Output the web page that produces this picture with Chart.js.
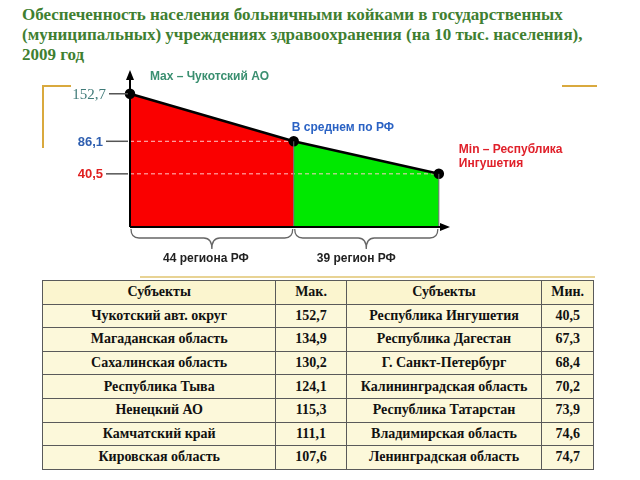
<!DOCTYPE html>
<html>
<head>
<meta charset="utf-8">
<script src="https://cdn.jsdelivr.net/npm/chart.js@4.4.1/dist/chart.umd.min.js"></script>
<style>
  body { margin: 0; width: 640px; height: 480px; background: #fff; position: relative; overflow: hidden; }
  #title { position: absolute; left: 22px; top: 5px; font: bold 17px "Liberation Serif", serif; line-height: 20px; color: #3f7f31; }
  #chartBox { position: absolute; left: 0; top: 60px; width: 640px; height: 215px; }
  .gold { position: absolute; background: #d9a93e; }
  #tbl { position: absolute; left: 42px; top: 280px; width: 552px; border-collapse: collapse; font: bold 14px "Liberation Serif", serif; color: #111; }
  #tbl td { border: 1px solid #5a5a5a; text-align: center; height: 22.6px; padding: 0; background: #fcf8da; }
  #tbl tr:first-child td { background: #fbf5cf; }
</style>
</head>
<body>
<div id="title">Обеспеченность населения больничными койками в государственных<br>(муниципальных) учреждениях здравоохранения (на 10 тыс. населения),<br>2009 год</div>

<div class="gold" style="left:42px;top:85px;width:2px;height:63px"></div>
<div class="gold" style="left:42px;top:85px;width:29px;height:2px"></div>
<div class="gold" style="left:562px;top:85px;width:35px;height:2px"></div>
<div class="gold" style="left:140px;top:276px;width:455px;height:2px;background:#e8d394"></div>

<div id="chartBox"><canvas id="chart" width="640" height="215"></canvas></div>

<table id="tbl"></table>

<script>
// группы регионов и уровни обеспеченности
const regionGroups = ['44 региона РФ', '39 регион РФ'];
const regionCounts = [44, 39];
const levelValues = [152.7, 86.1, 40.5]; // max, среднее, min
const levelNotes = [['Max – Чукотский АО'], ['В среднем по РФ'], ['Min – Республика', 'Ингушетия']];

// таблица
const tableHeader = ['Субъекты', 'Мак.', 'Субъекты', 'Мин.'];
const maxSubjects = ['Чукотский авт. округ', 'Магаданская область', 'Сахалинская область', 'Республика Тыва', 'Ненецкий АО', 'Камчатский край', 'Кировская область'];
const maxValues = [152.7, 134.9, 130.2, 124.1, 115.3, 111.1, 107.6];
const minSubjects = ['Республика Ингушетия', 'Республика Дагестан', 'Г. Санкт-Петербург', 'Калининградская область', 'Республика Татарстан', 'Владимирская область', 'Ленинградская область'];
const minValues = [40.5, 67.3, 68.4, 70.2, 73.9, 74.6, 74.7];

const fmt = v => v.toFixed(1).replace('.', ',');

// строим таблицу
const tbl = document.getElementById('tbl');
const widths = [235, 70, 196, 51];
let html = '<tr>' + tableHeader.map((h, i) => `<td style="width:${widths[i]}px">${h}</td>`).join('') + '</tr>';
maxSubjects.forEach((s, i) => {
    html += `<tr><td>${s}</td><td>${fmt(maxValues[i])}</td><td>${minSubjects[i]}</td><td>${fmt(minValues[i])}</td></tr>`;
});
tbl.innerHTML = html;

const xs = [0, regionCounts[0], regionCounts[0] + regionCounts[1]];
const pts = xs.map((x, i) => ({ x: x, y: levelValues[i] }));

const labelStyles = [
    { font: '15px "Liberation Serif"', color: '#3f7a78', right: 106 },
    { font: 'bold 13px "Liberation Sans"', color: '#2f5fb0', right: 103 },
    { font: 'bold 13px "Liberation Sans"', color: '#e02020', right: 103 }
];
const noteColors = ['#3a8f70', '#2a62c4', '#e0202a'];

const decor = {
    id: 'decor',
    afterDraw(chart) {
        const { ctx, chartArea: a, scales: { x, y } } = chart;
        ctx.save();

        // вертикальные границы областей
        ctx.strokeStyle = '#666';
        ctx.lineWidth = 1;
        [1, 2].forEach(i => {
            const px = x.getPixelForValue(xs[i]);
            ctx.beginPath();
            ctx.moveTo(px, a.bottom);
            ctx.lineTo(px, y.getPixelForValue(levelValues[i]));
            ctx.stroke();
        });

        // оси со стрелками
        ctx.strokeStyle = '#000';
        ctx.fillStyle = '#000';
        ctx.lineWidth = 2;
        ctx.beginPath();
        ctx.moveTo(a.left, a.bottom);
        ctx.lineTo(a.left, a.top + 6);
        ctx.moveTo(a.left, a.bottom);
        ctx.lineTo(a.right - 6, a.bottom);
        ctx.stroke();
        ctx.beginPath();
        ctx.moveTo(a.left, a.top);
        ctx.lineTo(a.left - 4, a.top + 10);
        ctx.lineTo(a.left + 4, a.top + 10);
        ctx.closePath();
        ctx.moveTo(a.right, a.bottom);
        ctx.lineTo(a.right - 10, a.bottom - 4);
        ctx.lineTo(a.right - 10, a.bottom + 4);
        ctx.closePath();
        ctx.fill();

        // фигурные скобки под осью
        ctx.strokeStyle = '#666';
        ctx.lineWidth = 1.3;
        const top = a.bottom + 2, mid = a.bottom + 11, tip = a.bottom + 22;
        const textShift = [-6, -10];
        regionGroups.forEach((g, i) => {
            const x0 = x.getPixelForValue(xs[i]) + 1, x1 = x.getPixelForValue(xs[i + 1]) - 1;
            const cx = (x0 + x1) / 2;
            ctx.beginPath();
            ctx.moveTo(x0, top);
            ctx.quadraticCurveTo(x0, mid, x0 + 8, mid);
            ctx.lineTo(cx - 8, mid);
            ctx.quadraticCurveTo(cx, mid, cx, tip);
            ctx.moveTo(x1, top);
            ctx.quadraticCurveTo(x1, mid, x1 - 8, mid);
            ctx.lineTo(cx + 8, mid);
            ctx.quadraticCurveTo(cx, mid, cx, tip);
            ctx.stroke();
            ctx.fillStyle = '#222';
            ctx.font = 'bold 12px "Liberation Sans"';
            ctx.textAlign = 'center';
            ctx.textBaseline = 'middle';
            ctx.fillText(g, cx + textShift[i], a.bottom + 32);
        });

        // подписи значений на оси Y
        levelValues.forEach((v, i) => {
            const py = y.getPixelForValue(v);
            const st = labelStyles[i];
            ctx.strokeStyle = '#555';
            ctx.lineWidth = 1.5;
            ctx.beginPath();
            ctx.moveTo(st.right + 3, py);
            ctx.lineTo(a.left - 2, py);
            ctx.stroke();
            ctx.fillStyle = st.color;
            ctx.font = st.font;
            ctx.textAlign = 'right';
            ctx.textBaseline = 'middle';
            ctx.fillText(fmt(v), st.right, py + 1);
        });

        // пояснения у точек
        ctx.font = 'bold 12px "Liberation Sans"';
        ctx.textAlign = 'left';
        ctx.textBaseline = 'middle';
        const offs = [[20, -17], [-2, -14], [20, -24]];
        levelNotes.forEach((lines, i) => {
            const px = x.getPixelForValue(xs[i]) + offs[i][0];
            const py = y.getPixelForValue(levelValues[i]) + offs[i][1];
            ctx.fillStyle = noteColors[i];
            lines.forEach((t, j) => ctx.fillText(t, px, py + j * 14));
        });

        ctx.restore();
    }
};

new Chart(document.getElementById('chart'), {
    type: 'line',
    data: {
        datasets: [
            {
                data: pts,
                borderColor: '#000',
                borderWidth: 2.5,
                pointRadius: 4,
                pointBackgroundColor: '#000',
                pointBorderColor: '#000',
                fill: false,
                clip: false,
                order: 0
            },
            {
                data: [{ x: xs[0], y: levelValues[1] }, { x: xs[1], y: levelValues[1] }],
                borderColor: '#ffc8c8',
                borderWidth: 1,
                borderDash: [4, 3],
                pointRadius: 0,
                fill: false,
                order: 1
            },
            {
                data: [{ x: xs[0], y: levelValues[2] }, { x: xs[2], y: levelValues[2] }],
                borderColor: '#ffc8c8',
                borderWidth: 1,
                borderDash: [4, 3],
                pointRadius: 0,
                fill: false,
                order: 1
            },
            {
                data: pts.slice(0, 2),
                borderColor: 'transparent',
                borderWidth: 0,
                backgroundColor: '#fa0000',
                pointRadius: 0,
                fill: 'start',
                order: 2
            },
            {
                data: pts.slice(1, 3),
                borderColor: 'transparent',
                borderWidth: 0,
                backgroundColor: '#00e800',
                pointRadius: 0,
                fill: 'start',
                order: 2
            }
        ]
    },
    options: {
        responsive: false,
        animation: false,
        devicePixelRatio: 1,
        layout: { padding: { left: 130, right: 190, top: 10, bottom: 48 } },
        plugins: { legend: { display: false }, tooltip: { enabled: false } },
        scales: {
            x: { type: 'linear', min: 0, max: 86, display: false },
            y: { type: 'linear', min: -34, max: 186, display: false }
        }
    },
    plugins: [decor]
});
</script>
</body>
</html>
